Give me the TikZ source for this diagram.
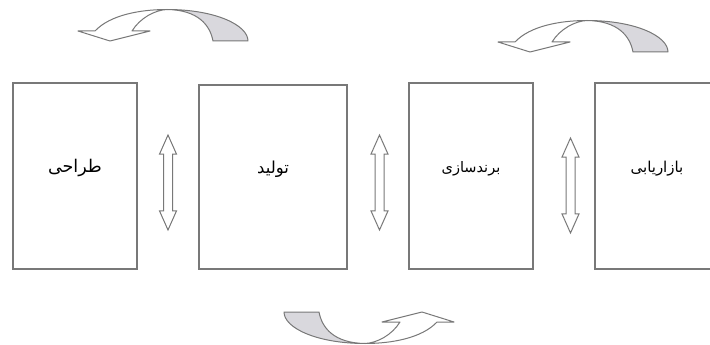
\documentclass[tikz,border=0pt]{standalone}
\usepackage{fontspec}
\usetikzlibrary{shapes.arrows}
\newfontfamily\arabicfont[Script=Arabic]{DejaVu Sans}
\TeXXeTstate=1
\definecolor{linegray}{RGB}{120,120,120}
\definecolor{backfill}{RGB}{217,216,221}
\newcommand{\fa}[1]{\arabicfont\beginR #1\endR}

% twisted curved arrow, local origin at the top crossing
\tikzset{
  curvedarrow/.pic={
    \filldraw[fill=white] (-72,21.5) .. controls (-57,5.5) and (-27,0) .. (0,0)
      .. controls (-12,0.5) and (-27,8.5) .. (-35,21.5) -- (-17,21.5)
      -- (-57,31.5) -- (-89,21.5) -- cycle;
    \filldraw[fill=backfill] (0,0) .. controls (48,0) and (81,15.5) .. (81,31.5)
      -- (46,31.5) .. controls (43,15.5) and (31,0.5) .. (0,0) -- cycle;
  }
}

\begin{document}
\begin{tikzpicture}[
  x=1pt, y=-1pt,
  box/.style={rectangle, draw=linegray, line width=1.3pt, inner sep=0pt,
              minimum width=124pt, minimum height=186pt,
              text height=10pt, text depth=18pt, font=\fontsize{17.5}{20}\selectfont},
  dblarrow/.style={double arrow, draw=linegray, line width=1pt, fill=white,
              rotate=90, inner xsep=0pt, inner ysep=4pt,
              minimum height=95pt, minimum width=16pt,
              double arrow head extend=4pt, double arrow tip angle=48},
  curve/.style={draw=linegray, line width=1pt, line join=round}
]
\useasboundingbox (0,0) rectangle (710,345);

\node[box] (design) at (75,176) {\fa{طراحی}};
\node[box, minimum width=148pt, minimum height=184pt,
      font=\fontsize{16.5}{20}\selectfont] (production) at (273,177) {\fa{تولید}};
\node[box, font=\fontsize{14.5}{17}\selectfont] (branding) at (471,176) {\fa{برندسازی}};
\node[box, font=\fontsize{15}{17}\selectfont] (marketing) at (657,176) {\fa{بازاریابی}};

\node[dblarrow] (link1) at (168,182.5) {};
\node[dblarrow] (link2) at (379.5,182.5) {};
\node[dblarrow] (link3) at (570.5,185.5) {};

\pic[curve] at (167,9.5) {curvedarrow};
\pic[curve] at (587,20.5) {curvedarrow};
\pic[curve, rotate=180] at (365,343.5) {curvedarrow};
\end{tikzpicture}
\end{document}
